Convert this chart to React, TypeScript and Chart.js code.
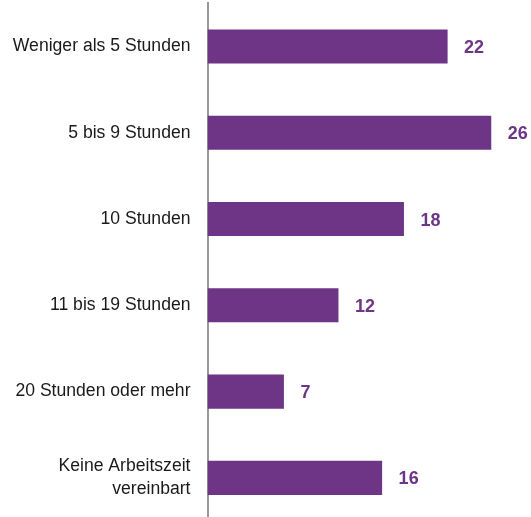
import React, { useEffect, useRef } from "react";
import { Chart, registerables } from "chart.js";

Chart.register(...registerables);

const categories: (string | string[])[] = [
  "Weniger als 5 Stunden",
  "5 bis 9 Stunden",
  "10 Stunden",
  "11 bis 19 Stunden",
  "20 Stunden oder mehr",
  ["Keine Arbeitszeit", "vereinbart"],
];
const values: number[] = [22, 26, 18, 12, 7, 16];

const PURPLE = "#6E3587";
const FONT = "'Liberation Sans', Arial, sans-serif";

const valueLabels = {
  id: "valueLabels",
  afterDatasetsDraw(chart: any) {
    const ctx = chart.ctx;
    const meta = chart.getDatasetMeta(0);
    ctx.save();
    ctx.fillStyle = PURPLE;
    ctx.font = `bold 18px ${FONT}`;
    ctx.textAlign = "left";
    ctx.textBaseline = "middle";
    meta.data.forEach((bar: any, i: number) => {
      ctx.fillText(String(values[i]), bar.x + 16.5, bar.y + 1.5);
    });
    ctx.restore();
  },
};

export default function App() {
  const ref = useRef<HTMLCanvasElement | null>(null);
  useEffect(() => {
    document.body.style.margin = "0";
    const chart = new Chart(ref.current as HTMLCanvasElement, {
      type: "bar",
      data: {
        labels: categories,
        datasets: [
          {
            data: values,
            backgroundColor: PURPLE,
            borderWidth: 0,
            categoryPercentage: 1,
            barPercentage: 0.395,
          },
        ],
      },
      options: {
        indexAxis: "y",
        animation: false,
        responsive: false,
        maintainAspectRatio: false,
        layout: { padding: { top: 3.4, right: 7, bottom: 0, left: 0 } },
        plugins: {
          legend: { display: false },
          tooltip: { enabled: false },
        },
        scales: {
          x: {
            display: false,
            min: 0,
            max: 29,
          },
          y: {
            afterFit: (scale: any) => {
              scale.width = 207.5;
              scale.paddingTop = 0;
              scale.paddingBottom = 0;
            },
            grid: { display: false, drawTicks: false, tickLength: 0 },
            border: { display: true, color: "#999999", width: 2 },
            ticks: {
              color: "#1a1a1a",
              padding: 17,
              font: { family: FONT, size: 17.6, lineHeight: 1.3 },
            },
          },
        },
      },
      plugins: [valueLabels],
    });
    return () => chart.destroy();
  }, []);
  return (
    <div style={{ position: "absolute", left: 0, top: 0, width: 531, height: 521 }}>
      <canvas ref={ref} width={531} height={521} />
    </div>
  );
}
